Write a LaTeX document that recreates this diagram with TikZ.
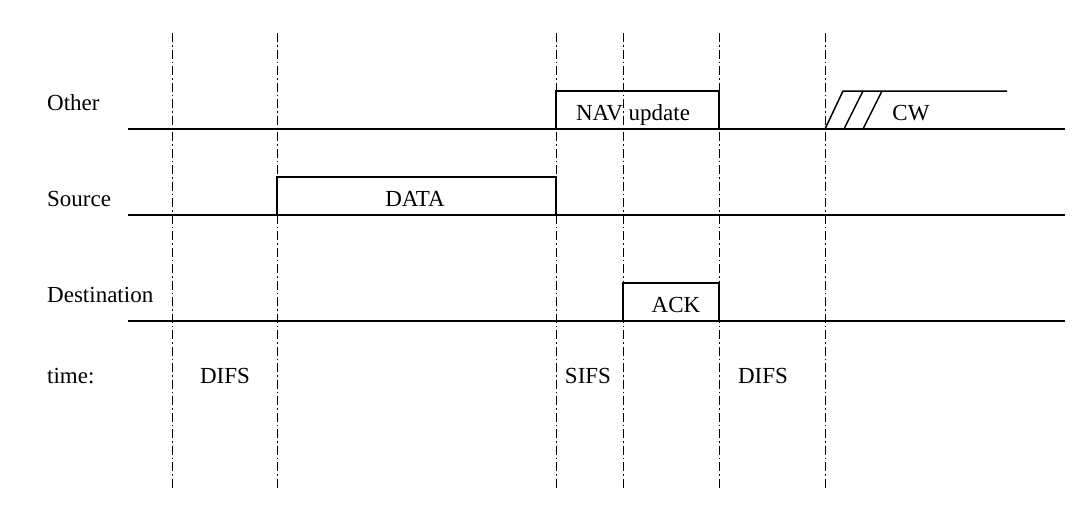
\documentclass[tikz,border=0pt]{standalone}
\usepackage{fontspec}
\setmainfont{Liberation Serif}
\begin{document}
\begin{tikzpicture}[x=1pt,y=-1pt,
  sig/.style={line width=1.5pt},
  guide/.style={line width=0.9pt, dash pattern=on 9pt off 3pt on 1.5pt off 3pt},
  lbl/.style={font=\fontsize{23}{26}\selectfont, inner sep=0pt, anchor=base},
  lbll/.style={lbl, anchor=base west}]
\useasboundingbox (0,0) rectangle (1079,509);
% guide lines
\foreach \x/\n in {172/g1,277/g2,556/g3,623/g4,719/g5,825/g6}{
  \coordinate (\n t) at (\x,33);
  \coordinate (\n b) at (\x,490);
  \draw[guide] (\n t) -- (\n b);
}
% signal lines
\coordinate (oL) at (128,129); \coordinate (oR) at (1065,129);
\coordinate (sL) at (128,215); \coordinate (sR) at (1065,215);
\coordinate (dL) at (128,321); \coordinate (dR) at (1065,321);
\draw[sig] (oL) -- (oR);
\draw[sig] (sL) -- (sR);
\draw[sig] (dL) -- (dR);
\foreach \y in {129,215,321}{ \draw[line width=2.2pt] (880,\y) -- (935,\y); }
% boxes
\draw[sig] (556,129) -- (556,91) -- (719,91) -- (719,129);
\draw[sig] (277,215) -- (277,177) -- (556,177) -- (556,215);
\draw[sig] (623,321) -- (623,283) -- (719,283) -- (719,321);
% CW
\draw[sig] (825,129) -- (843,91) -- (1007,91);
\draw[sig] (844,129) -- (863,91);
\draw[sig] (863,129) -- (882,91);
% labels
\node[lbll] (other) at (47,110) {Other};
\node[lbll] (source) at (47,206) {Source};
\node[lbll] (dest) at (47,302) {Destination};
\node[lbll] (time) at (47,383) {time:};
\node[lbl] (data) at (415,206) {DATA};
\node[lbl] (nav) at (633,120) {NAV update};
\node[lbl] (ack) at (676,312) {ACK};
\node[lbl] (cw) at (911,120) {CW};
\node[lbl] (difs1) at (225,383) {DIFS};
\node[lbl] (sifs) at (588,383) {SIFS};
\node[lbl] (difs2) at (763,383) {DIFS};
\end{tikzpicture}
\end{document}
